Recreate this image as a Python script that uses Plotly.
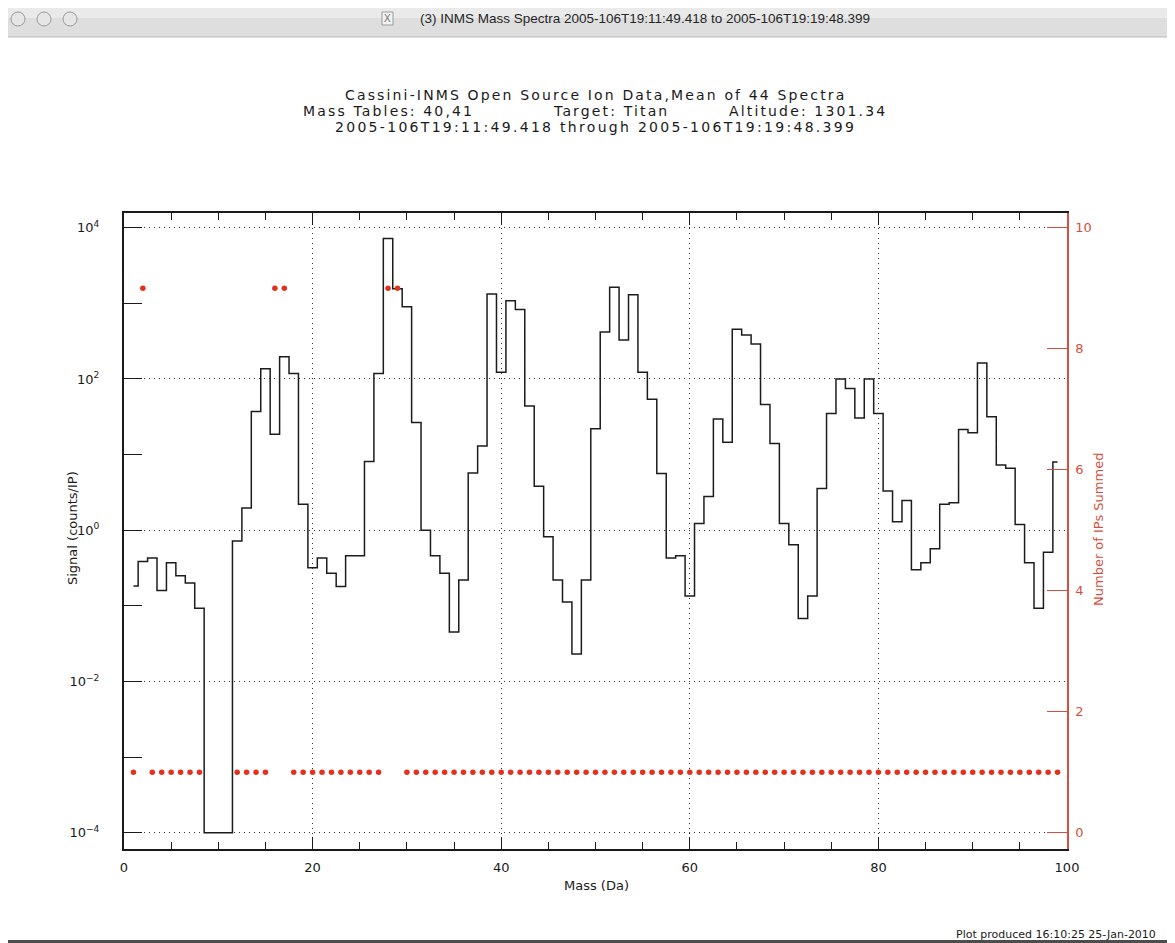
import plotly.graph_objects as go

# ---------------- data ----------------
mass = [1, 2, 3, 4, 5, 6, 7, 8, 9, 10,
        11, 12, 13, 14, 15, 16, 17, 18, 19, 20,
        21, 22, 23, 24, 25, 26, 27, 28, 29, 30,
        31, 32, 33, 34, 35, 36, 37, 38, 39, 40,
        41, 42, 43, 44, 45, 46, 47, 48, 49, 50,
        51, 52, 53, 54, 55, 56, 57, 58, 59, 60,
        61, 62, 63, 64, 65, 66, 67, 68, 69, 70,
        71, 72, 73, 74, 75, 76, 77, 78, 79, 80,
        81, 82, 83, 84, 85, 86, 87, 88, 89, 90,
        91, 92, 93, 94, 95, 96, 97, 98, 99]

signal = [0.183, 0.385, 0.43, 0.16, 0.37, 0.25, 0.20, 0.093, 1e-4, 1e-4,
          1e-4, 0.72, 1.96, 37, 136, 18.5, 196, 118, 2.2, 0.32,
          0.43, 0.27, 0.18, 0.46, 0.46, 8.1, 118, 7200, 1560, 900,
          26.5, 1.0, 0.46, 0.27, 0.045, 0.22, 5.7, 13, 1330, 123,
          1080, 830, 44, 3.8, 0.82, 0.22, 0.112, 0.023, 0.22, 22,
          417, 1630, 326, 1300, 123, 54, 5.6, 0.43, 0.46, 0.135,
          1.23, 2.8, 29.5, 14.5, 455, 380, 290, 46, 14, 1.23,
          0.64, 0.068, 0.135, 3.56, 35, 100, 75, 30.5, 100, 35,
          3.3, 1.29, 2.47, 0.30, 0.37, 0.57, 2.2, 2.3, 21.5, 19.5,
          163, 31.7, 7.3, 6.6, 1.19, 0.37, 0.093, 0.51, 8.0]

ips_summed = [1, 9, 1, 1, 1, 1, 1, 1, None, None,
              None, 1, 1, 1, 1, 9, 9, 1, 1, 1,
              1, 1, 1, 1, 1, 1, 1, 9, 9, 1,
              1, 1, 1, 1, 1, 1, 1, 1, 1, 1,
              1, 1, 1, 1, 1, 1, 1, 1, 1, 1,
              1, 1, 1, 1, 1, 1, 1, 1, 1, 1,
              1, 1, 1, 1, 1, 1, 1, 1, 1, 1,
              1, 1, 1, 1, 1, 1, 1, 1, 1, 1,
              1, 1, 1, 1, 1, 1, 1, 1, 1, 1,
              1, 1, 1, 1, 1, 1, 1, 1, 1]

x_ticks = [0, 20, 40, 60, 80, 100]
y_ticks = [1e-4, 1e-2, 1, 1e2, 1e4]
y_ticktext = ["10<sup>−4</sup>", "10<sup>−2</sup>", "10<sup>0</sup>",
              "10<sup>2</sup>", "10<sup>4</sup>"]
y_minor = [1e-3, 1e-1, 1e1, 1e3]
y2_ticks = [0, 2, 4, 6, 8, 10]

window_title = "(3) INMS Mass Spectra 2005-106T19:11:49.418 to 2005-106T19:19:48.399"
title_l1 = "Cassini-INMS Open Source Ion Data,Mean of 44 Spectra"
title_l2a = "Mass Tables: 40,41"
title_l2b = "Target: Titan"
title_l2c = "Altitude: 1301.34"
title_l3 = "2005-106T19:11:49.418 through 2005-106T19:19:48.399"
footer = "Plot produced 16:10:25 25-Jan-2010"

# ---------------- layout helpers ----------------
# page body has an 8px margin, so the figure is offset by 8px in the window
OFF = 8
W, H = 1175 - OFF, 943 - OFF
# plot box in window pixels
L, R, T, B = 124, 1067, 213, 849
PW, PH = R - L, B - T


def px(x):
    return (x - L) / PW


def py(y):
    return (B - y) / PH


RED_AX = "#d4503e"
RED_DOT = "#e2321f"
FONT = "DejaVu Sans"

fig = go.Figure()
fig.add_trace(go.Scatter(
    x=mass, y=signal, mode="lines",
    line=dict(shape="hvh", color="#1c1c1c", width=1.5),
    yaxis="y", hoverinfo="x+y"))
fig.add_trace(go.Scatter(
    x=mass, y=ips_summed, mode="markers",
    marker=dict(size=5.5, color=RED_DOT),
    yaxis="y2", hoverinfo="x+y"))

grid_dash = "1px,4px"

fig.update_layout(
    width=W, height=H, autosize=False,
    margin=dict(l=L - OFF, r=W - (R - OFF), t=T - OFF, b=H - (B - OFF), pad=0),
    paper_bgcolor="white", plot_bgcolor="white",
    showlegend=False,
    font=dict(family=FONT, color="#1a1a1a", size=13),
    xaxis=dict(
        range=[0, 100], tickvals=x_ticks, ticks="inside", ticklen=12,
        tickcolor="#1a1a1a", tickwidth=1, showline=True, linecolor="#1a1a1a",
        linewidth=1.5, mirror="ticks", showgrid=True, gridcolor="#333333",
        gridwidth=1, griddash=grid_dash, zeroline=False,
        tickfont=dict(family=FONT, size=13, color="#1a1a1a"),
        ticklabelstandoff=6,
        minor=dict(dtick=5, ticks="inside", ticklen=7, tickcolor="#1a1a1a",
                   showgrid=False),
    ),
    yaxis=dict(
        type="log", range=[-4.215, 4.194], tickmode="array",
        tickvals=y_ticks, ticktext=y_ticktext, ticks="inside", ticklen=18,
        tickcolor="#1a1a1a", showline=True, linecolor="#1a1a1a", linewidth=2,
        showgrid=True, gridcolor="#333333", gridwidth=1, griddash=grid_dash,
        zeroline=False, ticklabelstandoff=20,
        tickfont=dict(family=FONT, size=13, color="#1a1a1a"),
        minor=dict(tickvals=y_minor, ticks="inside", ticklen=18,
                   tickcolor="#1a1a1a", showgrid=False),
    ),
    yaxis2=dict(
        overlaying="y", side="right", range=[-0.269, 10.243],
        tickvals=y2_ticks, ticks="inside", ticklen=20, tickcolor=RED_AX,
        showline=True, linecolor=RED_AX, linewidth=1.5, showgrid=False,
        zeroline=False, ticklabelstandoff=4,
        tickfont=dict(family=FONT, size=13, color=RED_AX),
    ),
)

shapes = []
# window title bar
shapes.append(dict(type="rect", xref="paper", yref="paper",
                   x0=px(0), x1=px(1175), y0=py(37), y1=py(0),
                   fillcolor="#dedede", line=dict(width=0), layer="below"))
shapes.append(dict(type="rect", xref="paper", yref="paper",
                   x0=px(0), x1=px(1175), y0=py(18), y1=py(0),
                   fillcolor="#eaeaea", line=dict(width=0), layer="below"))
shapes.append(dict(type="line", xref="paper", yref="paper",
                   x0=px(0), x1=px(1175), y0=py(37), y1=py(37),
                   line=dict(color="#bcbcbc", width=1)))
for cx in (18, 44, 70):
    shapes.append(dict(type="circle", xref="paper", yref="paper",
                       x0=px(cx - 7), x1=px(cx + 7), y0=py(26), y1=py(12),
                       fillcolor="#e6e6e6", line=dict(color="#9a9a9a", width=1)))
# small X icon box
shapes.append(dict(type="rect", xref="paper", yref="paper",
                   x0=px(382), x1=px(393), y0=py(25), y1=py(12),
                   fillcolor="#f2f2f2", line=dict(color="#9a9a9a", width=1)))
# bottom dark edge
shapes.append(dict(type="rect", xref="paper", yref="paper",
                   x0=px(0), x1=px(1175), y0=py(945), y1=py(940),
                   fillcolor="#4d4d4d", line=dict(width=0)))

ann = []


def text(t, x, y, size=13, color="#1a1a1a", xanchor="center", angle=0,
         family=FONT, spacing=None):
    if spacing is not None:
        t = '<span style="letter-spacing:%gpx">%s</span>' % (spacing, t)
    ann.append(dict(text=t, x=px(x), y=py(y), xref="paper", yref="paper",
                    showarrow=False, xanchor=xanchor, yanchor="middle",
                    textangle=angle, borderpad=0,
                    font=dict(family=family, size=size, color=color)))


TS = 14
LS = 2.15
text(window_title, 645, 19, size=13.5, color="#262626", family="Liberation Sans")
text("X", 387.5, 18.5, size=10, color="#707070", family="Liberation Sans")
text(title_l1, 595, 95.5, size=TS, spacing=LS)
text(title_l2a, 302, 111.2, size=TS, xanchor="left", spacing=LS)
text(title_l2b, 552, 111.2, size=TS, xanchor="left", spacing=LS)
text(title_l2c, 888, 111.2, size=TS, xanchor="right", spacing=LS)
text(title_l3, 595, 127, size=TS, spacing=2.3)
text("Signal (counts/IP)", 72, 528, size=13, angle=-90)
text("Number of IPs Summed", 1098, 530, size=13, color=RED_AX, angle=-90)
text("Mass (Da)", 596, 885, size=13)
text(footer, 955, 934, size=11, xanchor="left")

fig.update_layout(shapes=shapes, annotations=ann)

fig.write_html("out.html")
